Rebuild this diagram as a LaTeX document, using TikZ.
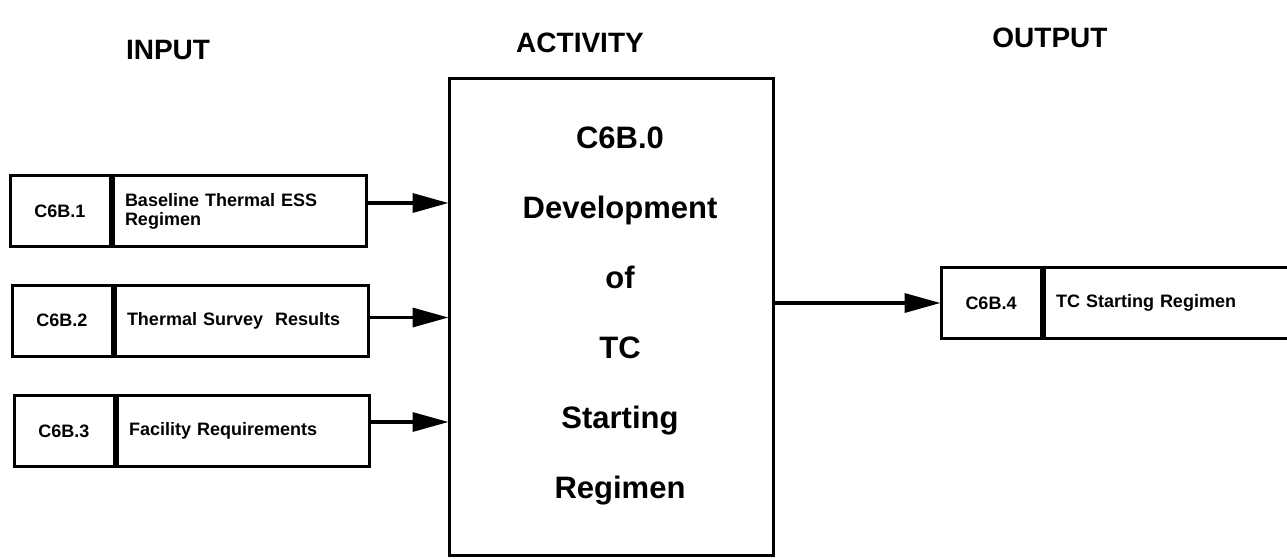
\documentclass[tikz,border=0pt]{standalone}
\usepackage{fontspec}
\setmainfont{Liberation Sans}
\usetikzlibrary{arrows.meta,positioning}
\tikzset{
  x=1pt, y=-1pt,
  box/.style={draw, line width=3pt, rectangle, inner sep=0pt, minimum height=71pt},
  idcell/.style={box, minimum width=100pt, font=\bfseries\fontsize{18}{19}\selectfont},
  txtcell/.style={box, anchor=west, text width=#1, align=left, inner xsep=12pt, font=\bfseries\fontsize{18}{19}\selectfont},
  title/.style={font=\bfseries\fontsize{28}{32}\selectfont},
  actbox/.style={draw, line width=3pt, rectangle, minimum width=324pt, minimum height=477pt, inner sep=0pt},
  acttext/.style={align=center, font=\bfseries\fontsize{31}{70}\selectfont},
  arr/.style={line width=3.4pt, -{Triangle[length=36pt, width=19pt]}, shorten >=-1pt},
}
\begin{document}
\begin{tikzpicture}
\clip (0,0) rectangle (1287,558);
\fill[white] (0,0) rectangle (1287,558);

\node[title] (tin) at (168,50) {INPUT};
\node[title] (tact) at (580,43) {ACTIVITY};
\node[title] (tout) at (1050,38) {OUTPUT};

\node[actbox] (act) at (611,316.5) {};
\node[acttext] (acttx) at (620,316) {C6B.0\\Development\\of\\TC\\Starting\\Regimen};

\node[idcell] (id1) at (60,211) {C6B.1};
\node[txtcell=229pt] (tx1) at (id1.east) {Baseline Thermal ESS\\Regimen};

\node[idcell] (id2) at (62,320.5) {C6B.2};
\node[txtcell=229pt] (tx2) at (id2.east) {Thermal Survey\ \ Results};

\node[idcell] (id3) at (64,431) {C6B.3};
\node[txtcell=228pt] (tx3) at (id3.east) {Facility Requirements};

\node[idcell] (id4) at (991,303) {C6B.4};
\node[txtcell=300pt] (tx4) at (id4.east) {TC Starting Regimen\vphantom{g}\\[14pt]};

\draw[arr] ([yshift=8pt]tx1.east) -- ([yshift=8pt]act.west |- tx1.east);
\draw[arr] ([yshift=3pt]tx2.east) -- ([yshift=3pt]act.west |- tx2.east);
\draw[arr] ([yshift=9pt]tx3.east) -- ([yshift=9pt]act.west |- tx3.east);
\draw[arr] (act.east |- id4.west) -- (id4.west);
\end{tikzpicture}
\end{document}
